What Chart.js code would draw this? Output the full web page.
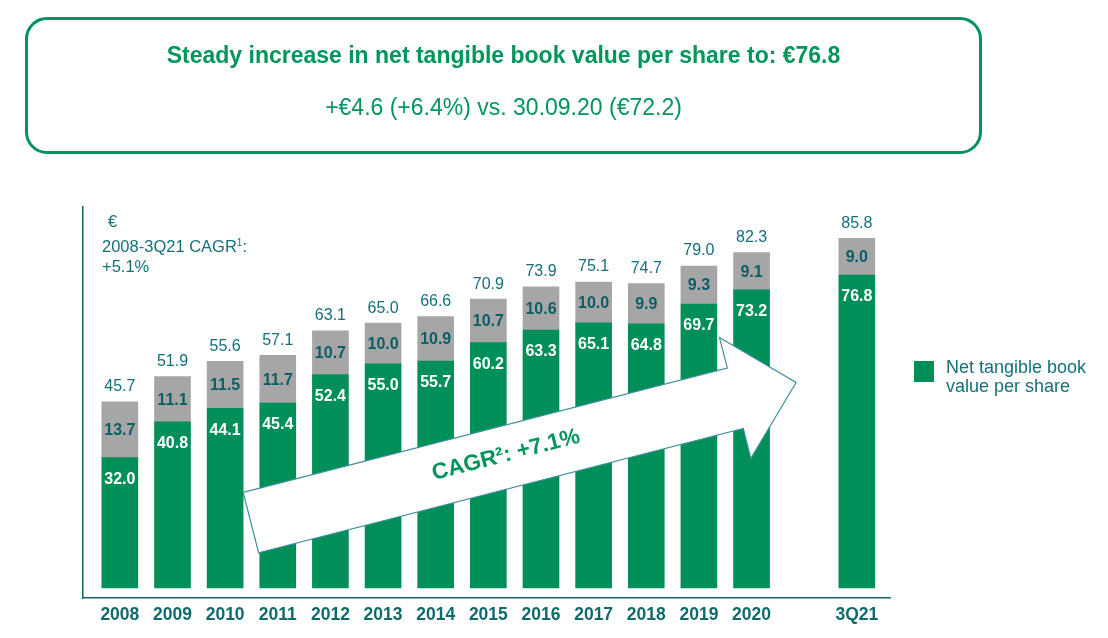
<!DOCTYPE html>
<html>
<head>
<meta charset="utf-8">
<script src="https://cdn.jsdelivr.net/npm/chart.js@4.4.0/dist/chart.umd.min.js"></script>
<style>
  html, body { margin: 0; padding: 0; background: #fff; }
  body { width: 1108px; height: 638px; position: relative; overflow: hidden; font-family: "Liberation Sans", Arial, sans-serif; }
  #wrap { position: absolute; left: 0; top: 0; width: 1108px; height: 638px; }
  #box { position: absolute; left: 25px; top: 17px; width: 951px; height: 131px; border: 3px solid #00935B; border-radius: 22px; box-sizing: content-box; }
  .t1 { position: absolute; left: 0; right: 0; text-align: center; color: #00955A; font-weight: bold; font-size: 23px; line-height: 28px; }
  .t2 { position: absolute; left: 0; right: 0; text-align: center; color: #00955A; font-size: 23px; line-height: 28px; }
  .note { position: absolute; color: #13707A; font-size: 16.5px; line-height: 20px; white-space: nowrap; }
  .note sup { font-size: 10px; vertical-align: 6px; line-height: 0; }
  #legSq { position: absolute; left: 914px; top: 361px; width: 20px; height: 21px; background: #008E59; }
  #legTx { position: absolute; left: 946px; top: 358px; color: #13707A; font-size: 18px; line-height: 19px; }
</style>
</head>
<body>
<div id="wrap"><canvas id="c" width="1108" height="638"></canvas></div>
<div id="box">
  <div class="t1" style="top:21px;">Steady increase in net tangible book value per share to: €76.8</div>
  <div class="t2" style="top:73px;">+€4.6 (+6.4%) vs. 30.09.20 (€72.2)</div>
</div>
<div class="note" style="left:108px; top:211px;">€</div>
<div class="note" style="left:102px; top:236px;">2008-3Q21 CAGR<sup>1</sup>:<br>+5.1%</div>
<div id="legSq"></div>
<div id="legTx">Net tangible book<br>value per share</div>
<script>
// ---- data ----
const categories = ['2008','2009','2010','2011','2012','2013','2014','2015','2016','2017','2018','2019','2020','','3Q21'];
const netTangible = [32.0,40.8,44.1,45.4,52.4,55.0,55.7,60.2,63.3,65.1,64.8,69.7,73.2,null,76.8];
const otherPart  = [13.7,11.1,11.5,11.7,10.7,10.0,10.9,10.7,10.6,10.0,9.9,9.3,9.1,null,9.0];
const totals     = [45.7,51.9,55.6,57.1,63.1,65.0,66.6,70.9,73.9,75.1,74.7,79.0,82.3,null,85.8];
const arrowText = 'CAGR²: +7.1%';

const GREEN = '#008E59', GREY = '#A6A6A6', TEAL = '#13707A', DARKTEAL = '#0B5E66', AXIS = '#0F6B63';

function pts(arr){ return arr.map((v,i)=>({x:i,y:v})).filter(p=>p.y!==null); }

// arrow outline in (category index, value) coordinates
const arrowShape = [
  [2.343,23.46],[11.54,54.0],[11.39,61.45],[12.846,50.42],[11.985,31.79],[11.844,39.14],[2.636,8.65]
];
const arrowLabelAt = [7.335, 32.6];

const overlay = {
  id: 'overlay',
  afterDatasetsDraw(chart){
    const ctx = chart.ctx, xs = chart.scales.x, ys = chart.scales.y;
    // arrow
    ctx.save();
    ctx.beginPath();
    arrowShape.forEach((p,i)=>{
      const px = xs.getPixelForValue(p[0]), py = ys.getPixelForValue(p[1]);
      if(i===0) ctx.moveTo(px,py); else ctx.lineTo(px,py);
    });
    ctx.closePath();
    ctx.fillStyle = '#fff'; ctx.fill();
    ctx.strokeStyle = '#3E8E9C'; ctx.lineWidth = 1.2; ctx.stroke();
    const ax0 = xs.getPixelForValue(arrowShape[0][0]), ay0 = ys.getPixelForValue(arrowShape[0][1]);
    const ax1 = xs.getPixelForValue(arrowShape[1][0]), ay1 = ys.getPixelForValue(arrowShape[1][1]);
    const ang = Math.atan2(ay1-ay0, ax1-ax0);
    ctx.translate(xs.getPixelForValue(arrowLabelAt[0]), ys.getPixelForValue(arrowLabelAt[1]));
    ctx.rotate(ang);
    ctx.fillStyle = '#00955A';
    ctx.font = 'bold 22.5px "Liberation Sans", Arial, sans-serif';
    ctx.textAlign = 'center'; ctx.textBaseline = 'middle';
    ctx.fillText(arrowText, 0, 0);
    ctx.restore();

    // value labels
    const m0 = chart.getDatasetMeta(0), m1 = chart.getDatasetMeta(1);
    const d0 = chart.data.datasets[0].data, d1 = chart.data.datasets[1].data;
    ctx.save();
    ctx.textAlign = 'center'; ctx.textBaseline = 'middle';
    m0.data.forEach((bar,j)=>{
      ctx.font = 'bold 16px "Liberation Sans", Arial, sans-serif';
      ctx.fillStyle = '#fff';
      ctx.fillText(d0[j].y.toFixed(1), bar.x, bar.y + 22);
    });
    m1.data.forEach((bar,j)=>{
      ctx.font = 'bold 16px "Liberation Sans", Arial, sans-serif';
      ctx.fillStyle = DARKTEAL;
      ctx.fillText(d1[j].y.toFixed(1), bar.x, (bar.y + bar.base)/2 + 1);
      ctx.font = '16px "Liberation Sans", Arial, sans-serif';
      ctx.fillStyle = TEAL;
      ctx.fillText(totals[d1[j].x].toFixed(1), bar.x, bar.y - 15);
    });
    ctx.restore();
  }
};

new Chart(document.getElementById('c'), {
  type: 'bar',
  data: {
    datasets: [
      { label: 'Net tangible book value per share', data: pts(netTangible), backgroundColor: GREEN, barThickness: 36, borderWidth: 0 },
      { label: 'Other', data: pts(otherPart), backgroundColor: GREY, barThickness: 36, borderWidth: 0 }
    ]
  },
  options: {
    responsive: false,
    devicePixelRatio: 1,
    animation: false,
    layout: { padding: { left: 83, right: 218, top: 207, bottom: 0 } },
    plugins: { legend: { display: false }, tooltip: { enabled: false } },
    scales: {
      x: {
        type: 'linear', stacked: true, min: -0.70, max: 14.63, offset: false,
        grid: { display: false, drawTicks: false },
        border: { display: true, color: AXIS, width: 1.5 },
        afterBuildTicks(axis){ axis.ticks = categories.map((c,i)=>({value:i})).filter(t=>categories[t.value] !== ''); },
        afterFit(axis){ axis.height = 40; },
        ticks: {
          autoSkip: false, maxRotation: 0, padding: 7, color: '#0E6A6B',
          font: { family: '"Liberation Sans", Arial, sans-serif', size: 17.5, weight: 'bold' },
          callback: (v)=> categories[v] ?? ''
        }
      },
      y: {
        stacked: true, min: -2.45, max: 93.5,
        grid: { display: false, drawTicks: false },
        border: { display: true, color: AXIS, width: 1.5 },
        ticks: { display: false },
        afterFit(axis){ axis.width = 0; }
      }
    }
  },
  plugins: [overlay]
});
</script>
</body>
</html>
